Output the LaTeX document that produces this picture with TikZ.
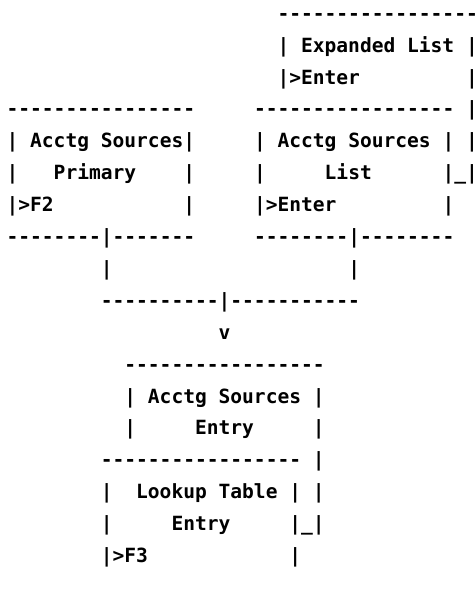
\documentclass[tikz,border=0pt]{standalone}
\usepackage{fontspec}
\newfontfamily\asciimono{DejaVu Sans Mono}[Ligatures=TeXOff]
\tikzset{
  ascii/.style={anchor=base west, inner sep=0pt, outer sep=0pt, text=black,
    font=\asciimono\bfseries\fontsize{19.57pt}{19.57pt}\selectfont},
}
\newcommand\cx[1]{6.6+#1*11.78}
\newcommand\ry[1]{-(20.2+#1*31.9)}
\begin{document}
\begin{tikzpicture}[x=1pt,y=1pt]
\useasboundingbox (0,0) rectangle (475,-589);
% Expanded List box
\node[ascii] (r0) at ({\cx{23}},{\ry{0}}) {-----------------};
\node[ascii] (r1) at ({\cx{23}},{\ry{1}}) {|~Expanded~List~|};
\node[ascii] (r2) at ({\cx{23}},{\ry{2}}) {|>Enter~~~~~~~~~|};
% Primary and List boxes
\node[ascii] (r3) at ({\cx{0}},{\ry{3}}) {----------------~~~~~-----------------~|};
\node[ascii] (r4) at ({\cx{0}},{\ry{4}}) {|~Acctg~Sources|~~~~~|~Acctg~Sources~|~|};
\node[ascii] (r5) at ({\cx{0}},{\ry{5}}) {|~~~Primary~~~~|~~~~~|~~~~~List~~~~~~|\_|};
\node[ascii] (r6) at ({\cx{0}},{\ry{6}}) {|>F2~~~~~~~~~~~|~~~~~|>Enter~~~~~~~~~|};
\node[ascii] (r7) at ({\cx{0}},{\ry{7}}) {--------|-------~~~~~--------|--------};
% connector
\node[ascii] (r8) at ({\cx{8}},{\ry{8}}) {|~~~~~~~~~~~~~~~~~~~~|};
\node[ascii] (r9) at ({\cx{8}},{\ry{9}}) {----------|-----------};
\node[ascii] (r10) at ({\cx{18}},{\ry{10}}) {v};
% Entry boxes
\node[ascii] (r11) at ({\cx{10}},{\ry{11}}) {-----------------};
\node[ascii] (r12) at ({\cx{10}},{\ry{12}}) {|~Acctg~Sources~|};
\node[ascii] (r13) at ({\cx{10}},{\ry{13}}) {|~~~~~Entry~~~~~|};
\node[ascii] (r14) at ({\cx{8}},{\ry{14}}) {-----------------~|};
\node[ascii] (r15) at ({\cx{8}},{\ry{15}}) {|~~Lookup~Table~|~|};
\node[ascii] (r16) at ({\cx{8}},{\ry{16}}) {|~~~~~Entry~~~~~|\_|};
\node[ascii] (r17) at ({\cx{8}},{\ry{17}}) {|>F3~~~~~~~~~~~~|};
\end{tikzpicture}
\end{document}
